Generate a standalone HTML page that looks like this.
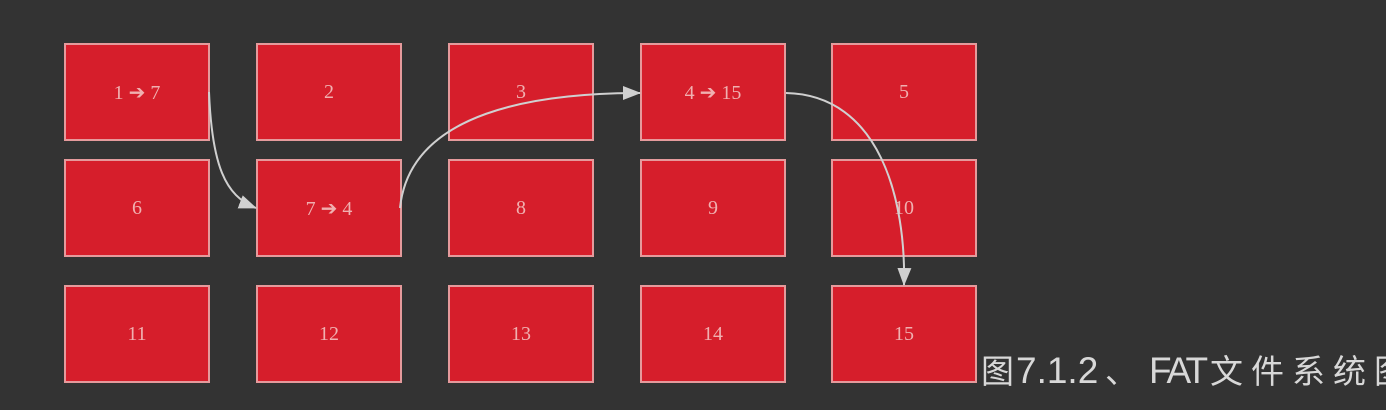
<!DOCTYPE html>
<html><head><meta charset="utf-8"><style>
body{margin:0;width:1386px;height:410px;background:#333333;overflow:hidden;position:relative;font-family:"Liberation Serif",serif}
.b{position:absolute;width:142px;height:94px;background:#d61e2b;border:2px solid #e59a9c;color:#f0b0b0;font-size:20px;display:flex;align-items:center;justify-content:center}
#cap{position:absolute;left:0;top:0;width:1386px;height:410px;color:#d8d8d8;white-space:nowrap}
#cap span{position:absolute;line-height:1}
.c{font-size:33px;font-family:"Noto Sans CJK SC",sans-serif;top:353px}
.l{font-size:37px;font-family:"Liberation Sans",sans-serif;top:352px}
svg{position:absolute;left:0;top:0}
</style></head><body>
<div id="grid"></div>
<svg width="1386" height="410">
<defs><marker id="ah" markerWidth="18" markerHeight="14" refX="17" refY="7" orient="auto" markerUnits="userSpaceOnUse"><path d="M0,0 L18,7 L0,14 Z" fill="#d0d0d0"/></marker></defs>
<path d="M209,92 C212,165 225,196 256,208" stroke="#d0d0d0" stroke-width="2" fill="none" marker-end="url(#ah)"/>
<path d="M400,208 C410,110 540,93 640,93" stroke="#d0d0d0" stroke-width="2" fill="none" marker-end="url(#ah)"/>
<path d="M786,93 C880,95 906,200 904,285" stroke="#d0d0d0" stroke-width="2" fill="none" marker-end="url(#ah)"/>
</svg>
<div id="cap"><span class="c" style="left:981px">图</span><span class="l" style="left:1016px">7.1.2</span><span class="c" style="left:1105px">、</span><span class="l" style="left:1149px;letter-spacing:-3px">FAT</span><span class="c" style="left:1210px;letter-spacing:8px">文件系统图</span></div>
<script>
const labels=['1 ➔ 7','2','3','4 ➔ 15','5','6','7 ➔ 4','8','9','10','11','12','13','14','15'];
const colX=[64,256,448,640,831];
const rowY=[43,159,285];
const g=document.getElementById('grid');
labels.forEach((t,i)=>{
const d=document.createElement('div');
d.className='b';


d.style.left=colX[i%5]+'px';d.style.top=rowY[Math.floor(i/5)]+'px';
d.textContent=t;g.appendChild(d);
});
</script>
</body></html>
